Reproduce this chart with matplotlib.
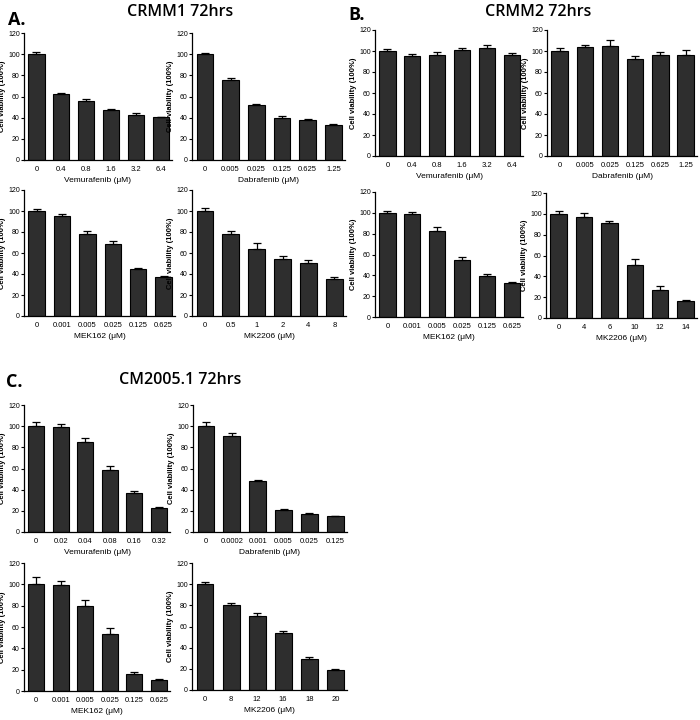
import matplotlib
matplotlib.use("Agg")
import matplotlib.pyplot as plt
import numpy as np

W, H = 700, 720

# ---------------- data ----------------
vem_A = ["0", "0.4", "0.8", "1.6", "3.2", "6.4"]
dab_A = ["0", "0.005", "0.025", "0.125", "0.625", "1.25"]
mek_A = ["0", "0.001", "0.005", "0.025", "0.125", "0.625"]
mk_A = ["0", "0.5", "1", "2", "4", "8"]
mk_B = ["0", "4", "6", "10", "12", "14"]
vem_C = ["0", "0.02", "0.04", "0.08", "0.16", "0.32"]
dab_C = ["0", "0.0002", "0.001", "0.005", "0.025", "0.125"]
mk_C = ["0", "8", "12", "16", "18", "20"]

crmm1_vem = [100, 62, 56, 47, 42.5, 40.5]
crmm1_vem_err = [2, 1.5, 1.5, 1.5, 1.5, 0.5]
crmm1_dab = [100, 75.5, 51.5, 40, 37.5, 33]
crmm1_dab_err = [1, 2, 1.5, 2, 1.5, 1]
crmm1_mek = [100, 95, 78, 68.5, 45, 37.5]
crmm1_mek_err = [2, 2, 3, 2.5, 1, 1]
crmm1_mk = [100, 78, 64, 54.5, 50.5, 35.5]
crmm1_mk_err = [3, 3, 6, 2.5, 2.5, 2]

crmm2_vem = [100, 95.5, 96.5, 100.5, 103, 96.5]
crmm2_vem_err = [2, 1.5, 2.5, 2, 2.5, 1.5]
crmm2_dab = [100, 103.5, 104.5, 92.5, 96.5, 96.5]
crmm2_dab_err = [2.5, 2, 6, 2.5, 3, 4.5]
crmm2_mek = [100, 98.5, 83, 55, 39.5, 32.5]
crmm2_mek_err = [2, 2, 3, 2.5, 1.5, 1]
crmm2_mk = [100, 97, 91, 51, 27, 16.5]
crmm2_mk_err = [2.5, 3.5, 2.5, 6, 4, 1]

cm_vem = [100, 99, 85.5, 59, 37, 22.5]
cm_vem_err = [3.5, 3.5, 3, 3, 2, 1]
cm_dab = [100, 91, 48, 21, 17, 15]
cm_dab_err = [4, 3, 1.5, 0.5, 1, 0.5]
cm_mek = [100, 99.5, 80, 53.5, 15.5, 10]
cm_mek_err = [6.5, 4, 5, 5.5, 2, 1]
cm_mk = [100, 80.5, 70, 53.5, 29.5, 18.5]
cm_mk_err = [2.5, 2, 3, 2.5, 1.5, 1.5]

panels = [
    # (x0, x1, ytop, ybot) in pixels, labels, values, errors, xlabel
    ((24, 172, 33, 160), vem_A, crmm1_vem, crmm1_vem_err, "Vemurafenib (\u03bcM)"),
    ((192, 345, 33, 160), dab_A, crmm1_dab, crmm1_dab_err, "Dabrafenib (\u03bcM)"),
    ((24, 175, 190, 316), mek_A, crmm1_mek, crmm1_mek_err, "MEK162 (\u03bcM)"),
    ((192, 346, 190, 316), mk_A, crmm1_mk, crmm1_mk_err, "MK2206 (\u03bcM)"),
    ((375, 523, 30, 156), vem_A, crmm2_vem, crmm2_vem_err, "Vemurafenib (\u03bcM)"),
    ((547, 697, 30, 156), dab_A, crmm2_dab, crmm2_dab_err, "Dabrafenib (\u03bcM)"),
    ((375, 523, 192, 317), mek_A, crmm2_mek, crmm2_mek_err, "MEK162 (\u03bcM)"),
    ((546, 697, 193, 318), mk_B, crmm2_mk, crmm2_mk_err, "MK2206 (\u03bcM)"),
    ((24, 170, 405, 532), vem_C, cm_vem, cm_vem_err, "Vemurafenib (\u03bcM)"),
    ((193, 347, 405, 532), dab_C, cm_dab, cm_dab_err, "Dabrafenib (\u03bcM)"),
    ((24, 170, 563, 691), mek_A, cm_mek, cm_mek_err, "MEK162 (\u03bcM)"),
    ((192, 347, 563, 690), mk_C, cm_mk, cm_mk_err, "MK2206 (\u03bcM)"),
]

plt.rcParams['font.family'] = ['Liberation Sans Narrow', 'Liberation Sans', 'DejaVu Sans']

fig = plt.figure(figsize=(W / 100, H / 100), dpi=100)

for (x0, x1, yt, yb), cats, vals, errs, xlab in panels:
    ax = fig.add_axes([x0 / W, 1 - yb / H, (x1 - x0) / W, (yb - yt) / H])
    x = np.arange(len(cats))
    ax.bar(x, vals, width=0.65, color="#2e2e2e", edgecolor="black", linewidth=0.8, zorder=2)
    ax.errorbar(x, vals, yerr=[np.zeros(len(errs)), errs], fmt="none", ecolor="black",
                elinewidth=0.9, capsize=3, capthick=0.9, zorder=3)
    ax.set_ylim(0, 120)
    ax.set_yticks(np.arange(0, 121, 20))
    ax.set_xlim(-0.5, len(cats) - 0.55)
    ax.set_xticks(x)
    ax.set_xticklabels(cats)
    ax.spines['top'].set_visible(False)
    ax.spines['right'].set_visible(False)
    for s in ('left', 'bottom'):
        ax.spines[s].set_linewidth(0.9)
    ax.tick_params(axis='y', labelsize=5, length=2, width=0.8, pad=1)
    ax.tick_params(axis='x', labelsize=5.5, length=0, pad=4)
    ax.set_xlabel(xlab, fontsize=6, labelpad=3)
    ax.set_ylabel("Cell viability (100%)", fontsize=5.5, fontweight='bold', labelpad=1.5)

tfam = ['Open Sans', 'DejaVu Sans']
fig.text(8 / W, 1 - 20 / H, "A.", fontsize=13, fontweight='bold', family=tfam, va='center')
fig.text(180 / W, 1 - 12 / H, "CRMM1 72hrs", fontsize=11.5, fontweight='semibold', family=tfam, ha='center', va='center')
fig.text(348 / W, 1 - 15 / H, "B.", fontsize=13, fontweight='bold', family=tfam, va='center')
fig.text(538 / W, 1 - 12 / H, "CRMM2 72hrs", fontsize=11.5, fontweight='semibold', family=tfam, ha='center', va='center')
fig.text(6 / W, 1 - 382 / H, "C.", fontsize=13, fontweight='bold', family=tfam, va='center')
fig.text(180 / W, 1 - 380 / H, "CM2005.1 72hrs", fontsize=11.5, fontweight='semibold', family=tfam, ha='center', va='center')

fig.savefig("out.png", dpi=100)
